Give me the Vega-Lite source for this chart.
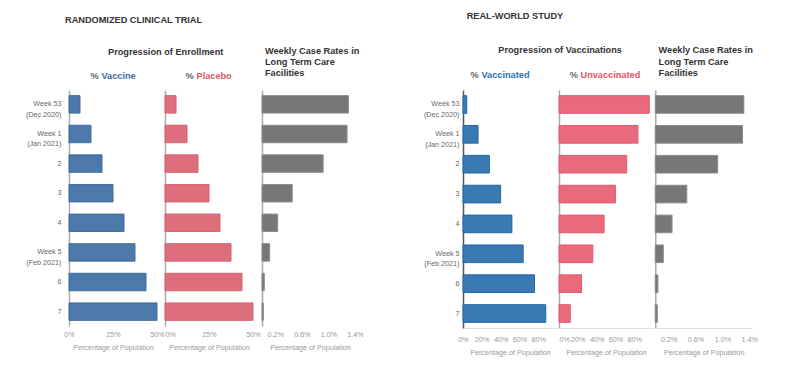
{
  "$schema": "https://vega.github.io/schema/vega-lite/v6.json",
  "padding": {"left": 25, "top": 12, "right": 5, "bottom": 5},
  "config": {
    "font": "Liberation Sans",
    "view": {"stroke": null},
    "axis": {"grid": false, "ticks": false},
    "title": {"font": "Liberation Sans", "fontWeight": "bold", "fontSize": 9.2, "color": "#333333", "anchor": "start", "frame": "group", "baseline": "alphabetic"}
  },
  "datasets": {
    "trial": [
      {"week": "Week 53|(Dec 2020)", "vaccine": 0.0625, "placebo": 0.0625, "cases": 0.0130},
      {"week": "Week 1|(Jan 2021)", "vaccine": 0.125, "placebo": 0.125, "cases": 0.0128},
      {"week": "2", "vaccine": 0.1875, "placebo": 0.1875, "cases": 0.0092},
      {"week": "3", "vaccine": 0.25, "placebo": 0.25, "cases": 0.00455},
      {"week": "4", "vaccine": 0.3125, "placebo": 0.3125, "cases": 0.00236},
      {"week": "Week 5|(Feb 2021)", "vaccine": 0.375, "placebo": 0.375, "cases": 0.00115},
      {"week": "6", "vaccine": 0.4375, "placebo": 0.4375, "cases": 0.00035},
      {"week": "7", "vaccine": 0.5, "placebo": 0.5, "cases": 0.0002}
    ],
    "realworld": [
      {"week": "Week 53|(Dec 2020)", "vaccinated": 0.04, "unvaccinated": 0.96, "cases": 0.0132},
      {"week": "Week 1|(Jan 2021)", "vaccinated": 0.16, "unvaccinated": 0.84, "cases": 0.0130},
      {"week": "2", "vaccinated": 0.28, "unvaccinated": 0.72, "cases": 0.0093},
      {"week": "3", "vaccinated": 0.40, "unvaccinated": 0.60, "cases": 0.0047},
      {"week": "4", "vaccinated": 0.52, "unvaccinated": 0.48, "cases": 0.0025},
      {"week": "Week 5|(Feb 2021)", "vaccinated": 0.64, "unvaccinated": 0.36, "cases": 0.0012},
      {"week": "6", "vaccinated": 0.76, "unvaccinated": 0.24, "cases": 0.0004},
      {"week": "7", "vaccinated": 0.88, "unvaccinated": 0.12, "cases": 0.0003}
    ]
  },
  "spacing": 59,
  "hconcat": [
    {
      "title": {"text": "RANDOMIZED CLINICAL TRIAL", "dx": -4, "offset": 22.5},
      "spacing": 0,
      "hconcat": [
        {
          "title": {"text": "Progression of Enrollment", "dx": 39, "offset": 14.8},
          "bounds": "flush",
          "spacing": 8,
          "hconcat": [
            {
              "data": {"name": "trial"},
              "width": 88, "height": 236,
              "layer": [
                {
                  "mark": {"type": "bar", "fill": "#4b79a9", "stroke": "#41709f", "strokeWidth": 1},
                  "encoding": {
                    "y": {"field": "week", "type": "nominal", "sort": null,
                      "scale": {"paddingInner": 0.41, "paddingOuter": 0.19},
                      "axis": {"orient": "left", "title": "%", "titleAngle": 0, "titleX": 21, "titleY": -11.2, "titleAlign": "left", "titleBaseline": "alphabetic", "titleColor": "#666666", "titleFontSize": 9.2, "titleFontWeight": "bold",
                        "labelExpr": "split(datum.label, '|')", "labelFontSize": 7.2, "labelColor": "#666666", "labelPadding": 8, "labelLineHeight": 10.5,
                        "domainColor": "#aaaaaa", "domainWidth": 1.5}},
                    "x": {"field": "vaccine", "type": "quantitative",
                      "scale": {"domain": [0, 0.5], "nice": false},
                      "axis": {"orient": "bottom", "title": "Percentage of Population", "titleFontSize": 7.2, "titleFontWeight": "normal", "titleColor": "#999999", "titlePadding": 6,
                        "labelFontSize": 7.2, "labelColor": "#999999", "labelPadding": 4, "labelFlush": false, "domain": false, "values": [0, 0.25, 0.5], "format": ".0%"}}
                  }
                },
                {
                  "mark": {"type": "rule", "opacity": 0},
                  "encoding": {
                    "x": {"datum": 0, "type": "quantitative",
                      "axis": {"orient": "top", "title": "Vaccine", "titleX": 32, "titleY": -11.2, "titleAlign": "left", "titleBaseline": "alphabetic", "titleColor": "#3d6fa6", "titleFontSize": 9.2, "titleFontWeight": "bold", "labels": false, "domain": false}}
                  }
                }
              ],
              "resolve": {"axis": {"x": "independent"}}
            },
            {
              "data": {"name": "trial"},
              "width": 88, "height": 236,
              "layer": [
                {
                  "mark": {"type": "bar", "fill": "#dc6f7b", "stroke": "#d8636f", "strokeWidth": 1},
                  "encoding": {
                    "y": {"field": "week", "type": "nominal", "sort": null,
                      "scale": {"paddingInner": 0.41, "paddingOuter": 0.19},
                      "axis": {"orient": "left", "title": "%", "titleAngle": 0, "titleX": 20, "titleY": -11.2, "titleAlign": "left", "titleBaseline": "alphabetic", "titleColor": "#666666", "titleFontSize": 9.2, "titleFontWeight": "bold",
                        "labels": false, "domainColor": "#aaaaaa", "domainWidth": 1.5}},
                    "x": {"field": "placebo", "type": "quantitative",
                      "scale": {"domain": [0, 0.5], "nice": false},
                      "axis": {"orient": "bottom", "title": "Percentage of Population", "titleFontSize": 7.2, "titleFontWeight": "normal", "titleColor": "#999999", "titlePadding": 6,
                        "labelFontSize": 7.2, "labelColor": "#999999", "labelPadding": 4, "labelFlush": false, "domain": false, "values": [0, 0.25, 0.5], "format": ".0%",
                        "labelAlign": {"condition": {"test": "datum.value === 0", "value": "left"}, "value": "center"}}}
                  }
                },
                {
                  "mark": {"type": "rule", "opacity": 0},
                  "encoding": {
                    "x": {"datum": 0, "type": "quantitative",
                      "axis": {"orient": "top", "title": "Placebo", "titleX": 31, "titleY": -11.2, "titleAlign": "left", "titleBaseline": "alphabetic", "titleColor": "#d85a68", "titleFontSize": 9.2, "titleFontWeight": "bold", "labels": false, "domain": false}}
                  }
                }
              ],
              "resolve": {"axis": {"x": "independent"}}
            }
          ]
        },
        {
          "data": {"name": "trial"},
          "title": {"text": ["Weekly Case Rates in", "Long Term Care", "Facilities"], "dx": 3, "offset": 11.4, "lineHeight": 11},
          "width": 96, "height": 236,
          "mark": {"type": "bar", "fill": "#777777", "stroke": "#8c8c8c", "strokeWidth": 1},
          "encoding": {
            "y": {"field": "week", "type": "nominal", "sort": null,
              "scale": {"paddingInner": 0.41, "paddingOuter": 0.19},
              "axis": {"orient": "left", "title": null, "labels": false, "domainColor": "#aaaaaa", "domainWidth": 1.5}},
            "x": {"field": "cases", "type": "quantitative",
              "scale": {"domain": [0, 0.01445], "nice": false},
              "axis": {"orient": "bottom", "title": "Percentage of Population", "titleFontSize": 7.2, "titleFontWeight": "normal", "titleColor": "#999999", "titlePadding": 6,
                "labelFontSize": 7.2, "labelColor": "#999999", "labelPadding": 4, "labelFlush": false, "domain": false, "values": [0.002, 0.006, 0.01, 0.014], "format": ".1%"}}
          }
        }
      ]
    },
    {
      "title": {"text": "REAL-WORLD STUDY", "dx": 3.7, "offset": 24.5},
      "spacing": 1.25,
      "hconcat": [
        {
          "title": {"text": "Progression of Vaccinations", "dx": 35.3, "offset": 15.8},
          "bounds": "flush",
          "spacing": 2,
          "hconcat": [
            {
              "data": {"name": "realworld"},
              "width": 94, "height": 238,
              "layer": [
                {
                  "mark": {"type": "bar", "fill": "#3a79b1", "stroke": "#1f66a7", "strokeWidth": 1},
                  "encoding": {
                    "y": {"field": "week", "type": "nominal", "sort": null,
                      "scale": {"paddingInner": 0.41, "paddingOuter": 0.19},
                      "axis": {"orient": "left", "title": "%", "titleAngle": 0, "titleX": 7, "titleY": -12.2, "titleAlign": "left", "titleBaseline": "alphabetic", "titleColor": "#666666", "titleFontSize": 9.2, "titleFontWeight": "bold",
                        "labelExpr": "split(datum.label, '|')", "labelFontSize": 7.2, "labelColor": "#666666", "labelPadding": 4, "labelLineHeight": 10.5,
                        "domainColor": "#555555", "domainWidth": 1.5}},
                    "x": {"field": "vaccinated", "type": "quantitative",
                      "scale": {"domain": [0, 1], "nice": false},
                      "axis": {"orient": "bottom", "title": "Percentage of Population", "titleFontSize": 7.2, "titleFontWeight": "normal", "titleColor": "#999999", "titlePadding": 6,
                        "labelFontSize": 7.2, "labelColor": "#999999", "labelPadding": 7, "labelFlush": false, "domainColor": "#dddddd", "domainWidth": 1, "values": [0, 0.2, 0.4, 0.6, 0.8], "format": ".0%"}}
                  }
                },
                {
                  "mark": {"type": "rule", "opacity": 0},
                  "encoding": {
                    "x": {"datum": 0, "type": "quantitative",
                      "axis": {"orient": "top", "title": "Vaccinated", "titleX": 18, "titleY": -12.2, "titleAlign": "left", "titleBaseline": "alphabetic", "titleColor": "#2a73b2", "titleFontSize": 9.2, "titleFontWeight": "bold", "labels": false, "domain": false}}
                  }
                }
              ],
              "resolve": {"axis": {"x": "independent"}}
            },
            {
              "data": {"name": "realworld"},
              "width": 94, "height": 238,
              "layer": [
                {
                  "mark": {"type": "bar", "fill": "#e96b7b", "stroke": "#e05a6c", "strokeWidth": 1},
                  "encoding": {
                    "y": {"field": "week", "type": "nominal", "sort": null,
                      "scale": {"paddingInner": 0.41, "paddingOuter": 0.19},
                      "axis": {"orient": "left", "title": "%", "titleAngle": 0, "titleX": 10.3, "titleY": -12.2, "titleAlign": "left", "titleBaseline": "alphabetic", "titleColor": "#666666", "titleFontSize": 9.2, "titleFontWeight": "bold",
                        "labels": false, "domainColor": "#aaaaaa", "domainWidth": 1.5}},
                    "x": {"field": "unvaccinated", "type": "quantitative",
                      "scale": {"domain": [0, 1], "nice": false},
                      "axis": {"orient": "bottom", "title": "Percentage of Population", "titleFontSize": 7.2, "titleFontWeight": "normal", "titleColor": "#999999", "titlePadding": 6,
                        "labelFontSize": 7.2, "labelColor": "#999999", "labelPadding": 7, "labelFlush": false, "domainColor": "#dddddd", "domainWidth": 1, "values": [0, 0.2, 0.4, 0.6, 0.8], "format": ".0%",
                        "labelAlign": {"condition": {"test": "datum.value === 0", "value": "left"}, "value": "center"}}}
                  }
                },
                {
                  "mark": {"type": "rule", "opacity": 0},
                  "encoding": {
                    "x": {"datum": 0, "type": "quantitative",
                      "axis": {"orient": "top", "title": "Unvaccinated", "titleX": 21, "titleY": -12.2, "titleAlign": "left", "titleBaseline": "alphabetic", "titleColor": "#e35568", "titleFontSize": 9.2, "titleFontWeight": "bold", "labels": false, "domain": false}}
                  }
                }
              ],
              "resolve": {"axis": {"x": "independent"}}
            }
          ]
        },
        {
          "data": {"name": "realworld"},
          "title": {"text": ["Weekly Case Rates in", "Long Term Care", "Facilities"], "dx": 3.3, "offset": 12, "lineHeight": 11.2},
          "width": 97, "height": 238,
          "mark": {"type": "bar", "fill": "#777777", "stroke": "#8c8c8c", "strokeWidth": 1},
          "encoding": {
            "y": {"field": "week", "type": "nominal", "sort": null,
              "scale": {"paddingInner": 0.41, "paddingOuter": 0.19},
              "axis": {"orient": "left", "title": null, "labels": false, "domainColor": "#aaaaaa", "domainWidth": 1.5}},
            "x": {"field": "cases", "type": "quantitative",
              "scale": {"domain": [0, 0.01445], "nice": false},
              "axis": {"orient": "bottom", "title": "Percentage of Population", "titleFontSize": 7.2, "titleFontWeight": "normal", "titleColor": "#999999", "titlePadding": 6,
                "labelFontSize": 7.2, "labelColor": "#999999", "labelPadding": 7, "labelFlush": false, "domainColor": "#dddddd", "domainWidth": 1, "values": [0.002, 0.006, 0.01, 0.014], "format": ".1%"}}
          }
        }
      ]
    }
  ]
}
